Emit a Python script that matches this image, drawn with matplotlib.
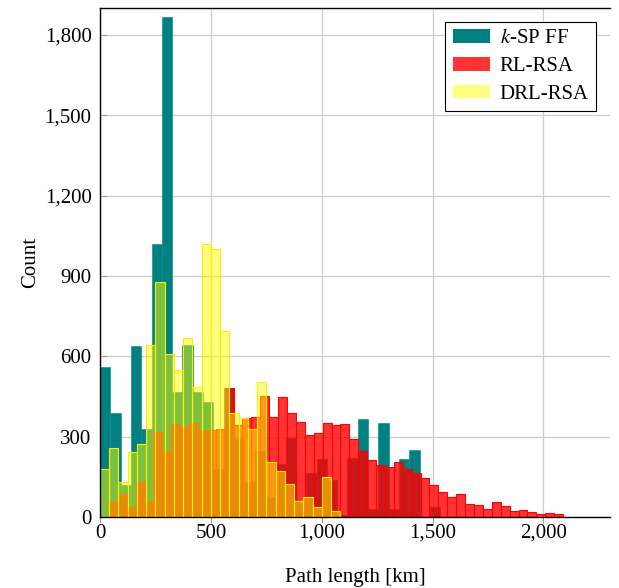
import numpy as np
import matplotlib
matplotlib.use('Agg')
import matplotlib.pyplot as plt
from matplotlib.patches import Patch
from matplotlib.ticker import FuncFormatter

# histogram counts, one list per algorithm
ksp_width = 46.5      # km per bin
ksp_counts = [560, 390, 120, 640, 330, 1020, 1865, 465, 642, 465, 430, 180, 480,
              290, 130, 246, 75, 197, 296, 60, 166, 218, 137, 8, 221, 364, 31,
              352, 28, 216, 249, 0, 36]

rl_width = 40.16
rl_counts = [0, 56, 84, 37, 131, 56, 316, 244, 347, 335, 350, 322, 325, 327, 480,
             343, 369, 372, 452, 372, 447, 387, 354, 305, 312, 352, 344, 346, 291,
             246, 212, 194, 187, 204, 178, 165, 146, 118, 92, 73, 85, 50, 43, 31,
             56, 40, 21, 27, 18, 13, 15, 13]

drl_width = 41.7
drl_counts = [178, 256, 131, 241, 271, 641, 879, 610, 549, 667, 487, 1018, 1001,
              695, 387, 368, 327, 504, 204, 171, 125, 59, 75, 37, 150, 22]

labels = ['$k$-SP FF', 'RL-RSA', 'DRL-RSA']
x_ticks = [0, 500, 1000, 1500, 2000]
y_ticks = [0, 300, 600, 900, 1200, 1500, 1800]

plt.rcParams['font.family'] = ['Liberation Serif', 'DejaVu Serif']
plt.rcParams['mathtext.fontset'] = 'stix'
plt.rcParams['font.size'] = 15

teal = (0, 128 / 255, 128 / 255)
red_face = (1, 0, 0, 0.8)
yel_face = (1, 1, 0, 0.5)

fig = plt.figure(figsize=(6.19, 5.88), dpi=100)
ax = fig.add_axes([100 / 619, 1 - 517 / 588, 510 / 619, 509 / 588])
ax.set_axisbelow(True)
ax.grid(True, color='#cccccc', linewidth=0.9)


def draw(counts, width, face, edge):
    counts = np.asarray(counts)
    edges = np.arange(len(counts)) * width
    ax.bar(edges, counts, width=width, align='edge', facecolor=face,
           edgecolor=edge, linewidth=0.8)


draw(ksp_counts, ksp_width, teal, (0, 0.55, 0.55, 0.6))
draw(rl_counts, rl_width, red_face, (1, 0, 0, 1))
draw(drl_counts, drl_width, yel_face, (1, 0.93, 0, 1))

ax.set_xlim(0, 2300)
ax.set_ylim(0, 1900)
ax.set_xticks(x_ticks)
ax.set_yticks(y_ticks)
fmt = FuncFormatter(lambda v, p: '{:,.0f}'.format(v))
ax.xaxis.set_major_formatter(fmt)
ax.yaxis.set_major_formatter(fmt)
ax.tick_params(axis='x', direction='out', length=4, color='#999999', pad=1)
ax.tick_params(axis='y', direction='in', length=5, color='#999999', pad=6)
for s in ['top', 'left', 'bottom']:
    ax.spines[s].set_linewidth(1.0)
ax.spines['right'].set_visible(False)

ax.set_xlabel('Path length [km]', labelpad=18)
ax.set_ylabel('Count', labelpad=3.5)

handles = [Patch(facecolor=teal, edgecolor='none'),
           Patch(facecolor=red_face, edgecolor='none'),
           Patch(facecolor=yel_face, edgecolor='none')]
leg = ax.legend(handles, labels, loc='upper right', bbox_to_anchor=(0.9725, 0.9725),
                borderaxespad=0, fancybox=False, framealpha=1, edgecolor='black',
                handlelength=1.8, handleheight=0.62, borderpad=0.35,
                labelspacing=0.42, handletextpad=0.45)
leg.get_frame().set_linewidth(0.8)

fig.savefig('out.png', dpi=100)
